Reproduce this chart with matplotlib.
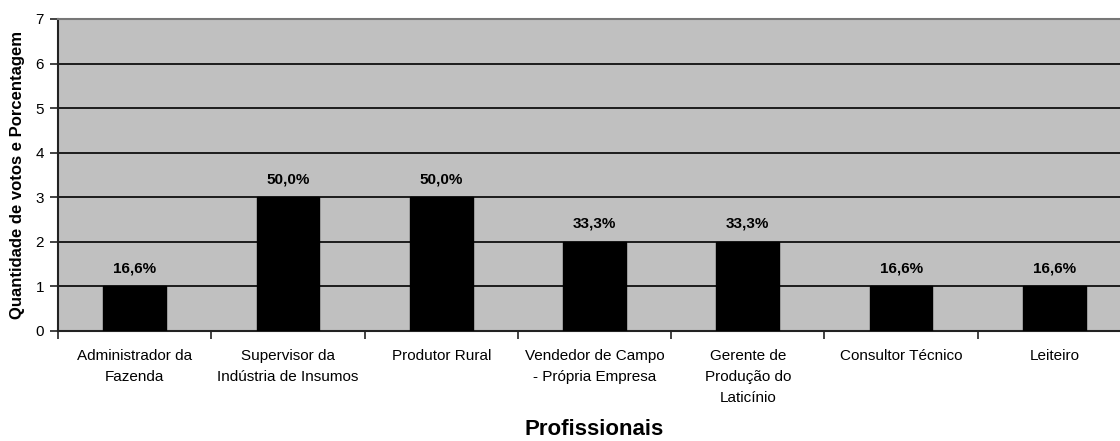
import matplotlib
matplotlib.use("Agg")
import matplotlib.pyplot as plt
import numpy as np

plt.rcParams['font.family'] = ['Liberation Sans', 'DejaVu Sans']

categories = [
    "Administrador da\nFazenda",
    "Supervisor da\nIndústria de Insumos",
    "Produtor Rural",
    "Vendedor de Campo\n- Própria Empresa",
    "Gerente de\nProdução do\nLaticínio",
    "Consultor Técnico",
    "Leiteiro",
]
votes = [1, 3, 3, 2, 2, 1, 1]
percent_labels = ["16,6%", "50,0%", "50,0%", "33,3%", "33,3%", "16,6%", "16,6%"]

W, H = 1120, 441
fig = plt.figure(figsize=(W / 100, H / 100), dpi=100)
left, right, top, bottom = 58, 1131, 19, 331
ax = fig.add_axes([left / W, 1 - bottom / H, (right - left) / W, (bottom - top) / H])
ax.set_facecolor("#C0C0C0")

x = np.arange(len(categories))
ax.bar(x, votes, width=0.41, color="black", edgecolor="black", zorder=3)

for xi, v, lab in zip(x, votes, percent_labels):
    ax.annotate(lab, (xi, v), xytext=(0, 8), textcoords="offset points",
                ha="center", va="bottom", fontsize=11, fontweight="bold", zorder=4)

ax.set_xlim(-0.5, len(categories) - 0.5)
ax.set_ylim(0, 7)
ax.set_yticks(range(0, 8))
ax.yaxis.grid(True, color="black", linewidth=1.2, zorder=1)
ax.set_axisbelow(True)

# category labels centred between boundary tick marks
ax.set_xticks(x)
ax.set_xticklabels(categories, fontsize=11, linespacing=1.65)
ax.tick_params(axis="x", length=0, pad=13)
ax.set_xticks(np.arange(-0.5, len(categories)), minor=True)
ax.tick_params(axis="x", which="minor", length=6, width=1.2, color="#222222", direction="out")
ax.tick_params(axis="y", length=6, width=1.2, color="#222222", labelsize=11, pad=4)

for s in ("left", "bottom"):
    ax.spines[s].set_color("#222222")
    ax.spines[s].set_linewidth(1.5)
ax.spines["top"].set_color("#777777")
ax.spines["top"].set_linewidth(1.5)
ax.spines["right"].set_visible(False)

fig.text(594 / W, 1 - 435 / H, "Profissionais", ha="center", va="baseline",
         fontsize=16, fontweight="bold")
fig.text(18 / W, 1 - 175 / H, "Quantidade de votos e Porcentagem", ha="center",
         va="center", rotation=90, fontsize=12, fontweight="bold")

fig.savefig("out.png", dpi=100)
